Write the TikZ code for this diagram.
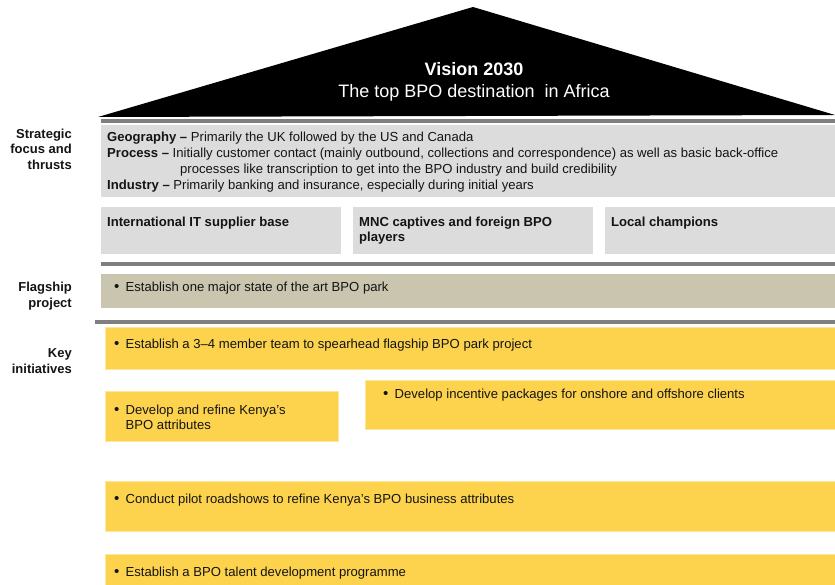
\documentclass[tikz,border=0pt]{standalone}
\usepackage{fontspec}
\setmainfont{Liberation Sans}
\usepackage{tikz}
\usetikzlibrary{positioning}
\definecolor{roofblack}{HTML}{000000}
\definecolor{bargray}{HTML}{7F7F7F}
\definecolor{thrustgray}{HTML}{DCDCDC}
\definecolor{flagtan}{HTML}{C9C5AE}
\definecolor{inityellow}{HTML}{FDD34D}
\definecolor{textmain}{HTML}{141414}
\newcommand{\bodyfont}{\fontsize{13.1pt}{15pt}\selectfont}
\newcommand{\bpoint}[1]{\makebox[11.5pt][l]{\raisebox{-0.9pt}{\scalebox{1.15}{\textbullet}}}#1}
\newcommand{\bpointtwo}[2]{\makebox[11.5pt][l]{\raisebox{-0.9pt}{\scalebox{1.15}{\textbullet}}}\begin{tabular}[t]{@{}l@{}}#1\\#2\end{tabular}}
\tikzstyle{panel} = [anchor=north west, inner sep=0pt, outer sep=0pt]
\tikzstyle{thrust} = [panel, fill=thrustgray]
\tikzstyle{init} = [panel, fill=inityellow, draw=inityellow!55!white, line width=0.8pt]
\tikzstyle{rowlabel} = [anchor=north east, align=right, font=\fontsize{13pt}{15.5pt}\selectfont\bfseries]
\tikzstyle{line} = [anchor=base west]

\begin{document}
\begin{tikzpicture}[x=1pt, y=-1pt, every node/.style={text=textmain, inner sep=0pt, font=\bodyfont}]
    \useasboundingbox (0,0) rectangle (835,585);

    % roof
    \coordinate (roofL) at (98,117);
    \coordinate (roofT) at (473,7);
    \coordinate (roofR) at (835,115);
    \fill[roofblack] (roofL) -- (roofT) -- (roofR) -- cycle;
    \node[anchor=base, text=white, font=\fontsize{18pt}{21pt}\selectfont\bfseries] (vision) at (474,76) {Vision 2030};
    \node[anchor=base, text=white, font=\fontsize{18pt}{21pt}\selectfont] (visiontag) at (474,98) {The top BPO destination\ \ in Africa};

    % strategic focus and thrusts
    \fill[bargray] (101,119.5) rectangle (835,123.5);
    \node[thrust, minimum width=734pt, minimum height=72pt] (thrustbox) at (101,125) {};
    \node[line] (geoline) at (107,142) {\textbf{Geography –} Primarily the UK followed by the US and Canada};
    \node[line] (procline) at (107,158) {\textbf{Process –} Initially customer contact (mainly outbound, collections and correspondence) as well as basic back-office};
    \node[line] (procline2) at (180,174) {processes like transcription to get into the BPO industry and build credibility};
    \node[line] (indline) at (107,190) {\textbf{Industry –} Primarily banking and insurance, especially during initial years};

    \node[thrust, minimum width=240pt, minimum height=47pt] (itbox) at (101,207) {};
    \node[thrust, minimum width=240pt, minimum height=47pt, right=12pt of itbox.north east, anchor=north west] (mncbox) {};
    \node[thrust, minimum width=230pt, minimum height=47pt, right=12pt of mncbox.north east, anchor=north west] (localbox) {};
    \node[anchor=north west, font=\bodyfont\bfseries] (ittext) at (107,216.6) {International IT supplier base};
    \node[anchor=north west, align=left, font=\fontsize{13.1pt}{15.5pt}\selectfont\bfseries] (mnctext) at (359,216.6) {MNC captives and foreign BPO\\players};
    \node[anchor=north west, font=\bodyfont\bfseries] (localtext) at (611,216.6) {Local champions};

    \node[rowlabel] (thrustlabel) at (72,128.6) {Strategic\\focus and\\thrusts};

    % flagship project
    \fill[bargray] (101,262.5) rectangle (835,266.5);
    \node[panel, fill=flagtan, minimum width=734pt, minimum height=34pt] (flagbox) at (101,274) {};
    \node[line] (flagtext) at (114,291) {\bpoint{Establish one major state of the art BPO park}};
    \node[rowlabel] (flaglabel) at (72,282) {Flagship\\project};

    % key initiatives
    \fill[bargray] (95,320) rectangle (835,324);
    \node[init, minimum width=730pt, minimum height=42pt] (teambox) at (105,327) {};
    \node[line] (teamtext) at (114,348) {\bpoint{Establish a 3–4 member team to spearhead flagship BPO park project}};
    \node[init, minimum width=233pt, minimum height=50pt] (refinebox) at (105,391) {};
    \node[line] (refinetext) at (114,414) {\bpointtwo{Develop and refine Kenya’s}{BPO attributes}};
    \node[init, minimum width=470pt, minimum height=49pt] (incentbox) at (365,380) {};
    \node[line] (incenttext) at (383,398) {\bpoint{Develop incentive packages for onshore and offshore clients}};
    \node[init, minimum width=730pt, minimum height=50pt] (roadbox) at (105,481) {};
    \node[line] (roadtext) at (114,503) {\bpoint{Conduct pilot roadshows to refine Kenya’s BPO business attributes}};
    \node[init, minimum width=730pt, minimum height=40pt] (talentbox) at (105,554) {};
    \node[line] (talenttext) at (114,576) {\bpoint{Establish a BPO talent development programme}};
    \node[rowlabel] (initlabel) at (72,348.6) {Key\\initiatives};
\end{tikzpicture}
\end{document}
